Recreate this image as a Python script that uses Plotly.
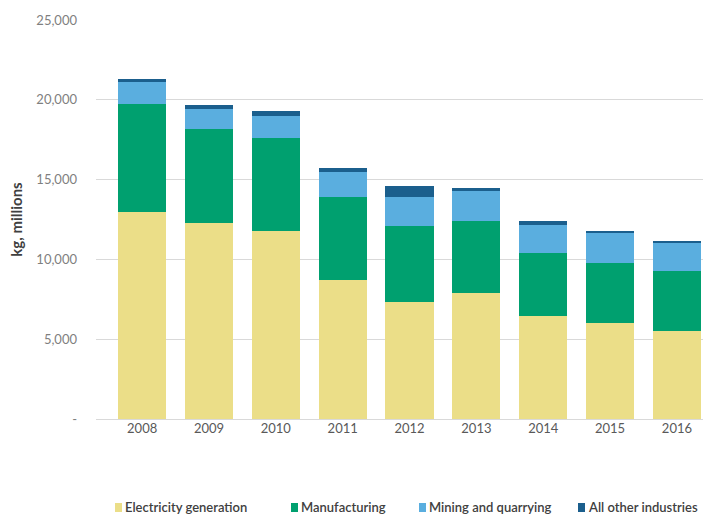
import plotly.graph_objects as go

years = ["2008", "2009", "2010", "2011", "2012", "2013", "2014", "2015", "2016"]
electricity = [13000, 12300, 11800, 8700, 7350, 7900, 6450, 6000, 5500]
manufacturing = [6750, 5900, 5800, 5200, 4750, 4500, 3950, 3800, 3800]
mining = [1350, 1200, 1400, 1600, 1800, 1900, 1750, 1850, 1700]
other = [200, 300, 300, 200, 700, 200, 250, 150, 170]

series_names = ["Electricity generation", "Manufacturing", "Mining and quarrying", "All other industries"]
series_colors = ["#EBDE88", "#00A06F", "#5AAEDF", "#1B5F8D"]
series_values = [electricity, manufacturing, mining, other]

y_tickvals = [0, 5000, 10000, 15000, 20000, 25000]
y_ticktext = ["-", "5,000", "10,000", "15,000", "20,000", "25,000"]

W, H = 703, 519
ML, MR, MT, MB = 96, 0, 20, 100
PW, PH = W - ML - MR, H - MT - MB

fig = go.Figure()
for name, color, vals in zip(series_names, series_colors, series_values):
    fig.add_trace(go.Bar(x=years, y=vals, name=name, showlegend=False,
                         marker=dict(color=color, line=dict(width=0))))

# legend drawn as swatches + labels below the plot
legend_px = [115, 291, 419, 578]
legend_py = 507
shapes, annotations = [], []
for name, color, px in zip(series_names, series_colors, legend_px):
    x0 = (px - ML) / PW
    x1 = (px + 7 - ML) / PW
    y0 = (MT + PH - (legend_py + 5)) / PH
    y1 = (MT + PH - (legend_py - 4)) / PH
    shapes.append(dict(type="rect", xref="paper", yref="paper", x0=x0, x1=x1, y0=y0, y1=y1,
                       fillcolor=color, line=dict(width=0)))
    annotations.append(dict(text=name, xref="paper", yref="paper",
                            x=(px + 8 - ML) / PW, y=(MT + PH - legend_py) / PH,
                            xanchor="left", yanchor="middle", showarrow=False,
                            font=dict(size=13, color="#404040", weight=600)))

fig.update_layout(
    barmode="stack",
    bargap=0.28,
    width=W, height=H,
    margin=dict(l=ML, r=MR, t=MT, b=MB, autoexpand=False),
    paper_bgcolor="white", plot_bgcolor="white",
    font=dict(family="Lato, Open Sans, sans-serif", size=13, color="#595959"),
    shapes=shapes, annotations=annotations,
    xaxis=dict(type="category", range=[-0.69, 8.39], showgrid=False, showline=False,
               ticks="", tickfont=dict(size=13, color="#595959")),
    yaxis=dict(range=[0, 25000], tickvals=y_tickvals, ticktext=y_ticktext,
               showgrid=True, gridcolor="#D9D9D9", gridwidth=1,
               zeroline=True, zerolinecolor="#D9D9D9", zerolinewidth=1,
               ticks="", ticklabelstandoff=18,
               tickfont=dict(size=13, color="#7F7F7F"),
               title=dict(text="<b>kg, millions</b>", font=dict(size=15, color="#404040"), standoff=10)),
)

fig.write_html("out.html")
